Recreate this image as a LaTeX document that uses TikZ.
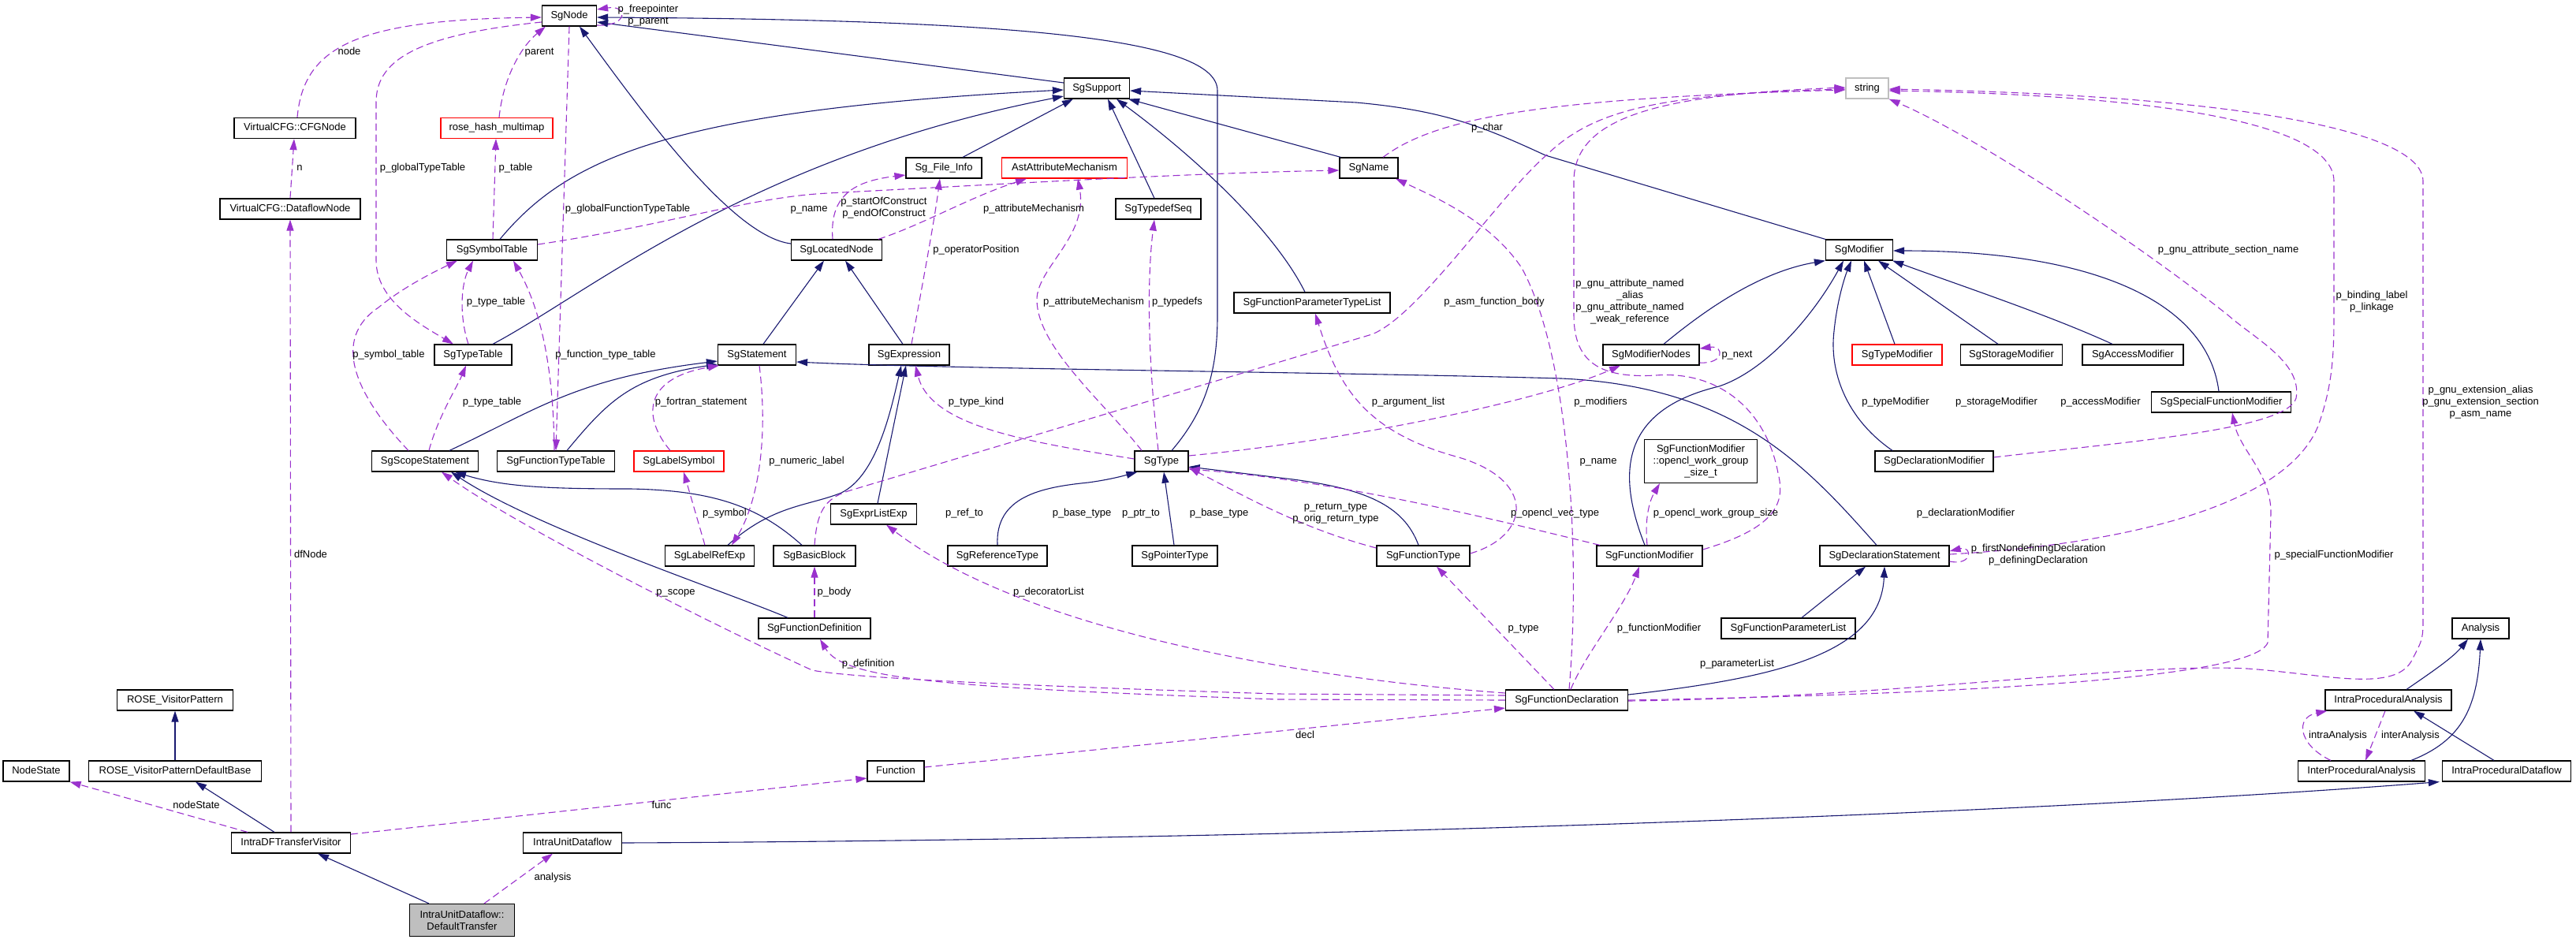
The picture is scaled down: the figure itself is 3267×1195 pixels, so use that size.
\documentclass[tikz,border=0pt]{standalone}
\usepackage{fontspec}
\setmainfont{Liberation Sans}
\usetikzlibrary{arrows.meta}
\definecolor{navy}{HTML}{191970}
\definecolor{orchid}{HTML}{9A32CD}
\definecolor{boxgray}{HTML}{BFBFBF}
\begin{document}
\begin{tikzpicture}[x=1pt,y=-1pt,
  every node/.style={font=\fontsize{13}{15}\selectfont, inner sep=0pt},
  box/.style={draw=black, line width=1.2pt, fill=white, minimum height=26pt, align=center, text height=9.5pt, text depth=2.7pt},
  redbox/.style={box, draw=red},
  graybox/.style={box, draw=boxgray},
  mbox/.style={draw=black, line width=1.2pt, fill=white, align=center},
  lbl/.style={align=center, text height=9.5pt, text depth=2.7pt},
  mlbl/.style={align=center},
  inh/.style={draw=navy, line width=1.1pt, -{Triangle[length=14pt,width=9pt]}},
  use/.style={draw=orchid, line width=1.1pt, dash pattern=on 9pt off 5pt, -{Triangle[length=14pt,width=9pt]}},
]
\useasboundingbox (0,0) rectangle (3267,1195);

% ---------- nodes ----------
\node[box, minimum width=69pt] (SgNode) at (722,20) {SgNode};
\node[box, minimum width=154pt] (CFGNode) at (374,162.5) {VirtualCFG::CFGNode};
\node[redbox, minimum width=142pt] (rosehash) at (630,162.5) {rose\_hash\_multimap};
\node[box, minimum width=178pt] (DataflowNode) at (368,265) {VirtualCFG::DataflowNode};
\node[box, minimum width=115pt] (SgSymbolTable) at (624,317) {SgSymbolTable};
\node[box, minimum width=83pt] (SgSupport) at (1391,112) {SgSupport};
\node[box, minimum width=96pt] (SgFileInfo) at (1197,213) {Sg\_File\_Info};
\node[redbox, minimum width=159pt] (AstAttr) at (1350,213) {AstAttributeMechanism};
\node[box, minimum width=108pt] (SgTypedefSeq) at (1469,265) {SgTypedefSeq};
\node[box, minimum width=115pt] (SgLocatedNode) at (1061,317) {SgLocatedNode};
\node[box, minimum width=198pt] (SgFPTL) at (1664,384) {SgFunctionParameterTypeList};
\node[graybox, minimum width=54pt] (string) at (2368,112) {string};
\node[box, minimum width=74pt] (SgName) at (1736,213) {SgName};
\node[box, minimum width=85pt] (SgModifier) at (2358,317) {SgModifier};
\node[box, minimum width=98pt] (SgTypeTable) at (600,450) {SgTypeTable};
\node[box, minimum width=135pt] (SgScopeStatement) at (539,585) {SgScopeStatement};
\node[box, minimum width=149pt] (SgFunctionTypeTable) at (705,585) {SgFunctionTypeTable};
\node[box, minimum width=99pt] (SgStatement) at (960,450) {SgStatement};
\node[box, minimum width=102pt] (SgExpression) at (1153,450) {SgExpression};
\node[redbox, minimum width=114pt] (SgLabelSymbol) at (861,585) {SgLabelSymbol};
\node[box, minimum width=68pt] (SgType) at (1473,585) {SgType};
\node[box, minimum width=109pt] (SgExprListExp) at (1108,652) {SgExprListExp};
\node[box, minimum width=113pt] (SgLabelRefExp) at (900,705) {SgLabelRefExp};
\node[box, minimum width=104pt] (SgBasicBlock) at (1033,705) {SgBasicBlock};
\node[box, minimum width=126pt] (SgReferenceType) at (1265,705) {SgReferenceType};
\node[box, minimum width=108pt] (SgPointerType) at (1490,705) {SgPointerType};
\node[box, minimum width=142pt] (SgFunctionDefinition) at (1033,797) {SgFunctionDefinition};
\node[box, minimum width=122pt] (SgModifierNodes) at (2094,450) {SgModifierNodes};
\node[redbox, minimum width=114pt] (SgTypeModifier) at (2406,450) {SgTypeModifier};
\node[mbox, minimum width=143pt, minimum height=55pt] (SgFMopencl) at (2157,585) {SgFunctionModifier\\::opencl\_work\_group\\\_size\_t};
\node[box, minimum width=150pt] (SgDeclarationModifier) at (2453,585) {SgDeclarationModifier};
\node[box, minimum width=118pt] (SgFunctionType) at (1805,705) {SgFunctionType};
\node[box, minimum width=134pt] (SgFunctionModifier) at (2092,705) {SgFunctionModifier};
\node[box, minimum width=164pt] (SgDeclarationStatement) at (2390,705) {SgDeclarationStatement};
\node[box, minimum width=170pt] (SgFunctionParameterList) at (2268,797) {SgFunctionParameterList};
\node[box, minimum width=129pt] (SgStorageModifier) at (2551,450) {SgStorageModifier};
\node[box, minimum width=128pt] (SgAccessModifier) at (2705,450) {SgAccessModifier};
\node[box, minimum width=177pt] (SgSpecialFunctionModifier) at (2817,510) {SgSpecialFunctionModifier};
\node[box, minimum width=72pt] (Analysis) at (3146,797) {Analysis};
\node[box, minimum width=147pt] (ROSEVP) at (222,888) {ROSE\_VisitorPattern};
\node[box, minimum width=84pt] (NodeState) at (46,978) {NodeState};
\node[box, minimum width=219pt] (ROSEVPDB) at (222,978) {ROSE\_VisitorPatternDefaultBase};
\node[box, minimum width=151pt] (IntraDF) at (369,1069) {IntraDFTransferVisitor};
\node[box, minimum width=125pt] (IntraUnit) at (726,1069) {IntraUnitDataflow};
\node[mbox, fill=boxgray, minimum width=133pt, minimum height=41pt] (DefTrans) at (586,1167) {IntraUnitDataflow::\\DefaultTransfer};
\node[box, minimum width=72pt] (Function) at (1136,978) {Function};
\node[box, minimum width=155pt] (SgFunctionDeclaration) at (1987,888) {SgFunctionDeclaration};
\node[box, minimum width=160pt] (IntraPA) at (3029,888) {IntraProceduralAnalysis};
\node[box, minimum width=161pt] (InterPA) at (2995,978) {InterProceduralAnalysis};
\node[box, minimum width=163pt] (IntraPD) at (3179,978) {IntraProceduralDataflow};

% ---------- inheritance edges ----------
\draw[inh] ([yshift=7pt]SgSupport.west) -- ([yshift=-8pt]SgNode.east);
\draw[inh] ([yshift=8pt]SgLocatedNode.west) .. controls (930,300) and (820,150) .. ([xshift=13pt]SgNode.south);
\draw[inh] ([xshift=13pt]SgType.north) .. controls (1530,520) and (1544,470) .. (1544,400) -- (1544,115) .. controls (1544,50) and (1300,25) .. ([yshift=-2pt]SgNode.east);
\draw[inh] ([xshift=10pt]SgSymbolTable.north) .. controls (720,200) and (850,140) .. ([yshift=-2pt]SgSupport.west);
\draw[inh] ([xshift=25pt]SgTypeTable.north) .. controls (750,370) and (950,200) .. ([yshift=-10pt]SgSupport.west);
\draw[inh] ([xshift=24pt]SgFileInfo.north) -- ([xshift=-30pt]SgSupport.south);
\draw[inh] ([xshift=-5pt]SgTypedefSeq.north) -- ([xshift=14pt]SgSupport.south);
\draw[inh] ([xshift=-9pt]SgFPTL.north) .. controls (1620,300) and (1530,210) .. ([xshift=25pt]SgSupport.south);
\draw[inh] ([xshift=2pt]SgName.north west) -- ([xshift=-2pt]SgSupport.south east);
\draw[inh] (SgModifier.north west) -- (1960,197) .. controls (1880,160) and (1830,140) .. (1720,130) -- ([yshift=-3pt]SgSupport.east);
\draw[inh] ([xshift=8pt]SgStatement.north) -- ([xshift=-16pt]SgLocatedNode.south);
\draw[inh] ([xshift=-8pt]SgExpression.north) -- ([xshift=11pt]SgLocatedNode.south);
\draw[inh] ([xshift=31pt]SgScopeStatement.north) .. controls (680,520) and (730,480) .. ([yshift=-8pt]SgStatement.west);
\draw[inh] ([xshift=14pt]SgFunctionTypeTable.north) .. controls (770,510) and (800,478) .. ([yshift=-12pt]SgStatement.west);
\draw[inh] ([xshift=-10pt]SgDeclarationStatement.north) .. controls (2290,590) and (2200,490) .. (1980,480) .. controls (1700,472) and (1200,468) .. ([yshift=-9pt]SgStatement.east);
\draw[inh] ([xshift=23pt]SgLabelRefExp.north) .. controls (980,640) and (1025,642) .. (1067,625) .. controls (1112,603) and (1130,520) .. ([xshift=-10pt]SgExpression.south);
\draw[inh] ([xshift=5pt]SgExprListExp.north) -- ([xshift=-4pt]SgExpression.south);
\draw[inh] ([xshift=-16pt]SgBasicBlock.north) .. controls (960,640) and (900,622) .. (800,620) .. controls (700,620) and (640,618) .. ([xshift=38pt]SgScopeStatement.south);
\draw[inh] ([xshift=-34pt]SgFunctionDefinition.north) .. controls (920,750) and (680,670) .. ([xshift=33pt]SgScopeStatement.south);
\draw[inh] (SgReferenceType.north) .. controls (1262,630) and (1320,618) .. (1380,612) .. controls (1410,608) and (1430,602) .. ([xshift=4pt]SgType.south west);
\draw[inh] ([xshift=-1pt]SgPointerType.north) -- ([xshift=3pt]SgType.south);
\draw[inh] ([xshift=-6pt]SgFunctionType.north) .. controls (1780,640) and (1730,620) .. (1640,608) -- ([yshift=-7pt]SgType.east);
\draw[inh] ([xshift=16pt]SgModifierNodes.north) .. controls (2160,395) and (2230,345) .. (SgModifier.south west);
\draw[inh] ([xshift=-3pt]SgTypeModifier.north) -- ([xshift=6pt]SgModifier.south);
\draw[inh] ([xshift=-6pt]SgFunctionModifier.north) .. controls (2050,600) and (2055,520) .. (2180,490) .. controls (2240,470) and (2300,400) .. ([xshift=-20pt]SgModifier.south);
\draw[inh] ([xshift=-53pt]SgDeclarationModifier.north) .. controls (2340,530) and (2320,470) .. (2326,420) .. controls (2330,380) and (2340,350) .. ([xshift=-10pt]SgModifier.south);
\draw[inh] ([xshift=-17pt]SgStorageModifier.north) -- ([xshift=24pt]SgModifier.south);
\draw[inh] ([xshift=-26pt]SgAccessModifier.north) .. controls (2600,400) and (2480,360) .. ([xshift=-1pt]SgModifier.south east);
\draw[inh] ([xshift=-3pt]SgSpecialFunctionModifier.north) .. controls (2800,385) and (2660,318) .. ([yshift=-1pt]SgModifier.east);
\draw[inh] ([xshift=17pt]SgFunctionParameterList.north) -- ([xshift=-24pt]SgDeclarationStatement.south);
\draw[inh] ([yshift=7pt]SgFunctionDeclaration.east) .. controls (2250,860) and (2385,830) .. (SgDeclarationStatement.south);
\draw[inh] (ROSEVPDB.north) -- (ROSEVP.south);
\draw[inh] ([xshift=-21pt]IntraDF.north) -- ([xshift=26pt]ROSEVPDB.south);
\draw[inh] ([xshift=-42pt]DefTrans.north) -- ([xshift=34pt]IntraDF.south);
\draw[inh] (IntraUnit.east) .. controls (1700,1065) and (2600,1030) .. ([xshift=-3pt]IntraPD.south west);
\draw[inh] ([xshift=23pt]IntraPA.north) .. controls (3080,855) and (3110,835) .. ([xshift=-16pt]Analysis.south);
\draw[inh] ([xshift=63pt]InterPA.north) .. controls (3120,940) and (3142,900) .. (Analysis.south);
\draw[inh] ([xshift=-16pt]IntraPD.north) -- ([xshift=32pt]IntraPA.south);

% ---------- usage edges ----------
\draw[use] ([yshift=-12pt]SgNode.east) .. controls (797,34) and (797,6) .. ([yshift=8pt]SgNode.east);
\draw[use] ([xshift=3pt]CFGNode.north) .. controls (385,60) and (450,25) .. ([yshift=-2pt]SgNode.west);
\draw[use] ([xshift=3pt]rosehash.north) .. controls (638,100) and (660,60) .. ([xshift=5pt]SgNode.south west);
\draw[use] ([yshift=-8pt]SgNode.west) .. controls (520,45) and (477,80) .. (477,130) -- (477,330) .. controls (477,380) and (530,410) .. ([xshift=-25pt]SgTypeTable.north);
\draw[use] (SgNode.south) -- (SgFunctionTypeTable.north);
\draw[use] ([xshift=1pt]SgSymbolTable.north) -- ([xshift=-1pt]rosehash.south);
\draw[use] ([yshift=7pt]SgSymbolTable.east) .. controls (850,285) and (950,250) .. (1050,245) .. controls (1300,232) and (1500,220) .. ([yshift=-3pt]SgName.west);
\draw[use] ([xshift=-5pt]SgLocatedNode.north) .. controls (1052,250) and (1080,230) .. ([yshift=-9pt]SgFileInfo.west);
\draw[use] ([xshift=53pt]SgLocatedNode.north) .. controls (1170,285) and (1230,250) .. ([xshift=-48pt]AstAttr.south);
\draw[use] ([xshift=-25pt]SgType.north) .. controls (1400,510) and (1315,440) .. (1315,380) .. controls (1315,340) and (1380,300) .. ([xshift=17pt]AstAttr.south);
\draw[use] ([xshift=-4pt]SgType.north) .. controls (1455,450) and (1455,350) .. ([xshift=-5pt]SgTypedefSeq.south);
\draw[use] ([xshift=3pt]SgExpression.north) .. controls (1170,360) and (1185,280) .. ([xshift=-5pt]SgFileInfo.south);
\draw[use] ([yshift=3pt]SgType.west) .. controls (1300,560) and (1180,540) .. ([xshift=8pt]SgExpression.south);
\draw[use] ([xshift=-11pt]SgLabelSymbol.north) .. controls (815,530) and (815,480) .. ([xshift=2pt]SgStatement.south west);
\draw[use] ([xshift=3pt]SgStatement.south) .. controls (975,560) and (960,640) .. ([xshift=28pt]SgLabelRefExp.north);
\draw[use] ([xshift=-6pt]SgLabelRefExp.north) -- ([xshift=6pt]SgLabelSymbol.south);
\draw[use] (SgFunctionDefinition.north) -- (SgBasicBlock.south);
\draw[use] ([xshift=5pt]SgScopeStatement.north) .. controls (555,530) and (580,490) .. ([xshift=-9pt]SgTypeTable.south);
\draw[use] ([xshift=-21pt]SgScopeStatement.north) .. controls (450,500) and (420,430) .. (480,390) .. controls (510,365) and (550,345) .. ([xshift=-44pt]SgSymbolTable.south);
\draw[use] ([xshift=-6pt]SgTypeTable.north) .. controls (582,400) and (585,360) .. ([xshift=-24pt]SgSymbolTable.south);
\draw[use] ([xshift=-2pt]SgFunctionTypeTable.north) .. controls (702,480) and (690,400) .. ([xshift=27pt]SgSymbolTable.south);
\draw[use] (SgFunctionDeclaration.west) -- (1620,887) .. controls (1200,872) and (1070,862) .. ([xshift=7pt]SgFunctionDefinition.south);
\draw[use] ([yshift=6pt]SgFunctionDeclaration.west) -- (1620,880) .. controls (1300,870) and (1080,860) .. (1030,850) .. controls (920,800) and (660,670) .. ([xshift=21pt]SgScopeStatement.south);
\draw[use] ([yshift=9pt]SgFunctionDeclaration.west) .. controls (1650,860) and (1300,800) .. ([xshift=16pt]SgExprListExp.south);
\draw[use] ([yshift=11pt]IntraDF.east) -- ([yshift=-9pt]Function.west);
\draw[use] ([yshift=5pt]Function.east) -- ([yshift=-10pt]SgFunctionDeclaration.west);
\draw[use] ([xshift=-55pt]IntraDF.north) -- (NodeState.south east);
\draw[use] (IntraDF.north) -- (DataflowNode.south);
\draw[use] (DataflowNode.north) -- ([xshift=-1pt]CFGNode.south);
\draw[use] ([xshift=28pt]DefTrans.north) -- ([xshift=-25pt]IntraUnit.south);
\draw[use] ([xshift=-39pt]InterPA.north) .. controls (2915,945) and (2910,910) .. ([xshift=3pt]IntraPA.south west);
\draw[use] ([xshift=-4pt]IntraPA.south) -- ([xshift=5pt]InterPA.north);
\draw[use] ([yshift=-10pt]SgModifierNodes.east) .. controls (2187,462) and (2187,438) .. ([yshift=8pt]SgModifierNodes.east);
\draw[use] ([yshift=7pt]SgType.east) .. controls (1700,560) and (1950,510) .. ([xshift=-39pt]SgModifierNodes.south);
\draw[use] ([xshift=-3pt]SgFunctionModifier.north) .. controls (2085,650) and (2095,630) .. ([xshift=-52pt]SgFMopencl.south);
\draw[use] ([xshift=-63pt]SgFunctionModifier.north) .. controls (1900,660) and (1700,610) .. ([yshift=-10pt]SgType.east);
\draw[use] ([yshift=10pt]SgFunctionType.west) .. controls (1650,670) and (1580,630) .. ([yshift=-8pt]SgType.east);
\draw[use] ([yshift=3pt]SgFunctionType.east) .. controls (1940,680) and (1950,610) .. (1850,580) .. controls (1740,550) and (1700,500) .. ([xshift=4pt]SgFPTL.south);
\draw[use] ([xshift=-16pt]SgFunctionDeclaration.north) -- ([xshift=17pt]SgFunctionType.south);
\draw[use] ([xshift=5pt]SgFunctionDeclaration.north) .. controls (2010,830) and (2060,770) .. ([xshift=-13pt]SgFunctionModifier.south);
\draw[use] ([xshift=3pt]SgFunctionDeclaration.north) .. controls (2005,700) and (1990,450) .. (1930,340) .. controls (1890,280) and (1820,250) .. ([xshift=34pt]SgName.south);
\draw[use] ([yshift=8pt]SgFunctionModifier.east) .. controls (2250,670) and (2265,640) .. (2255,600) .. controls (2240,520) and (2180,470) .. (2100,476) .. controls (2030,480) and (1996,460) .. (1996,400) -- (1996,230) .. controls (1996,150) and (2100,120) .. ([yshift=1pt]string.west);
\draw[use] ([xshift=18pt]SgName.north) .. controls (1820,150) and (1950,125) .. ([yshift=-2pt]string.west);
\draw[use] (SgBasicBlock.north) .. controls (1036,650) and (1045,633) .. (1075,623) -- (1740,424) .. controls (1800,400) and (1900,250) .. (1961,197) .. controls (2020,140) and (2100,120) .. ([yshift=-1pt]string.west);
\draw[use] ([yshift=5pt]SgDeclarationModifier.east) .. controls (2700,560) and (2900,545) .. (2912,505) .. controls (2920,460) and (2860,430) .. (2826,400) .. controls (2700,300) and (2500,170) .. (string.south east);
\draw[use] ([yshift=2pt]SgDeclarationStatement.east) .. controls (2700,690) and (2900,640) .. (2940,540) .. controls (2958,490) and (2960,450) .. (2960,400) -- (2960,230) .. controls (2960,150) and (2700,120) .. ([yshift=-3pt]string.east);
\draw[use] ([yshift=-7pt]SgDeclarationStatement.east) .. controls (2502,718) and (2502,692) .. ([yshift=6pt]SgDeclarationStatement.east);
\draw[use] (SgFunctionDeclaration.east) .. controls (2500,880) and (2860,860) .. (2876,815) -- (2880,650) .. controls (2880,600) and (2840,570) .. ([xshift=14pt]SgSpecialFunctionModifier.south);
\draw[use] ([yshift=-1pt]SgFunctionDeclaration.east) .. controls (2400,885) and (2700,840) .. (2850,848) .. controls (2950,855) and (3040,880) .. (3060,835) .. controls (3073,810) .. (3073,780) -- (3073,230) .. controls (3073,160) and (2800,120) .. ([yshift=-1pt]string.east);

% ---------- labels ----------
\node[mlbl] (lfree) at (822,19.5) {p\_freepointer\\p\_parent};
\node[lbl] (lnode) at (443,66) {node};
\node[lbl] (lparent) at (684,66) {parent};
\node[lbl] (lglobTT) at (536,213) {p\_globalTypeTable};
\node[lbl] (lglobFTT) at (796,265) {p\_globalFunctionTypeTable};
\node[lbl] (ltable) at (654,213) {p\_table};
\node[lbl] (lname1) at (1026,265) {p\_name};
\node[mlbl] (lstartend) at (1121,264) {p\_startOfConstruct\\p\_endOfConstruct};
\node[lbl] (lattr1) at (1311,265) {p\_attributeMechanism};
\node[lbl] (lattr2) at (1387,383) {p\_attributeMechanism};
\node[lbl] (ltypedefs) at (1493,383) {p\_typedefs};
\node[lbl] (loppos) at (1238,317) {p\_operatorPosition};
\node[lbl] (ltypekind) at (1238,510) {p\_type\_kind};
\node[lbl] (lfortran) at (889,510) {p\_fortran\_statement};
\node[lbl] (lnumeric) at (1023,585) {p\_numeric\_label};
\node[lbl] (lsymbol) at (919,651) {p\_symbol};
\node[lbl] (lbody) at (1058,751) {p\_body};
\node[lbl] (ltypetable1) at (624,510) {p\_type\_table};
\node[lbl] (lsymtable) at (493,450) {p\_symbol\_table};
\node[lbl] (ltypetable2) at (629,383) {p\_type\_table};
\node[lbl] (lfunctypetable) at (768,450) {p\_function\_type\_table};
\node[lbl] (ldefinition) at (1101,842) {p\_definition};
\node[lbl] (lscope) at (857,751) {p\_scope};
\node[lbl] (ldecorator) at (1330,751) {p\_decoratorList};
\node[lbl] (lfunc) at (839,1022) {func};
\node[lbl] (ldecl) at (1655,933) {decl};
\node[lbl] (lnodestate) at (249,1022) {nodeState};
\node[lbl] (ldfnode) at (394,704) {dfNode};
\node[lbl] (ln) at (380,213) {n};
\node[lbl] (lanalysis) at (701,1113) {analysis};
\node[lbl] (lintra) at (2965,933) {intraAnalysis};
\node[lbl] (linter) at (3057,933) {interAnalysis};
\node[lbl] (lnext) at (2203,450) {p\_next};
\node[lbl] (lmodifiers) at (2030,510) {p\_modifiers};
\node[lbl] (lwgs) at (2176,651) {p\_opencl\_work\_group\_size};
\node[lbl] (lvec) at (1972,651) {p\_opencl\_vec\_type};
\node[mlbl] (lreturn) at (1694,651) {p\_return\_type\\p\_orig\_return\_type};
\node[lbl] (larglist) at (1786,510) {p\_argument\_list};
\node[lbl] (ltype) at (1932,797) {p\_type};
\node[lbl] (lfuncmod) at (2104,797) {p\_functionModifier};
\node[lbl] (lname2) at (2027,585) {p\_name};
\node[lbl] (lchar) at (1886,162) {p\_char};
\node[lbl] (lasm) at (1895,383) {p\_asm\_function\_body};
\node[mlbl] (lgnunamed) at (2067,383) {p\_gnu\_attribute\_named\\\_alias\\p\_gnu\_attribute\_named\\\_weak\_reference};
\node[lbl] (lsection) at (2826,317) {p\_gnu\_attribute\_section\_name};
\node[mlbl] (lbinding) at (3008,383) {p\_binding\_label\\p\_linkage};
\node[mlbl] (lfirstnondef) at (2585,704) {p\_firstNondefiningDeclaration\\p\_definingDeclaration};
\node[mlbl] (lgnuext) at (3146,510) {p\_gnu\_extension\_alias\\p\_gnu\_extension\_section\\p\_asm\_name};
\node[lbl] (lspecial) at (2960,704) {p\_specialFunctionModifier};
\node[lbl] (lparamlist) at (2203,842) {p\_parameterList};
\node[lbl] (ldeclmod) at (2493,651) {p\_declarationModifier};
\node[lbl] (ltypemod) at (2404,510) {p\_typeModifier};
\node[lbl] (lstoragemod) at (2532,510) {p\_storageModifier};
\node[lbl] (laccessmod) at (2664,510) {p\_accessModifier};
\node[lbl] (lrefto) at (1223,651) {p\_ref\_to};
\node[lbl] (lbase1) at (1372,651) {p\_base\_type};
\node[lbl] (lptrto) at (1447,651) {p\_ptr\_to};
\node[lbl] (lbase2) at (1546,651) {p\_base\_type};
\end{tikzpicture}
\end{document}
